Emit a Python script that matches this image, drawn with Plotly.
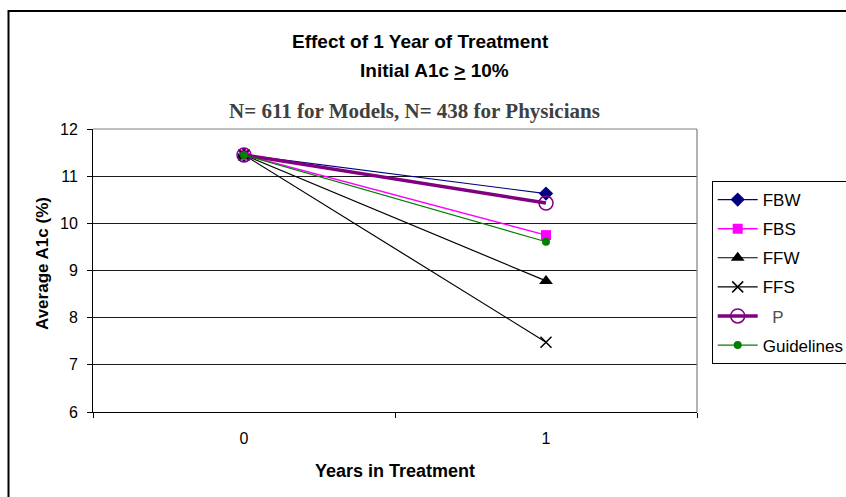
import plotly.graph_objects as go

# Treatment year categories and average A1c (%) for each strategy
years = ["0", "1"]
fbw = [11.45, 10.63]
fbs = [11.45, 9.75]
ffw = [11.45, 8.78]
ffs = [11.45, 7.48]
physicians = [11.45, 10.43]
guidelines = [11.45, 9.61]

y_ticks = [6, 7, 8, 9, 10, 11, 12]

W, H = 846, 497
ML, MR, MT, MB = 93, 149, 129, 85
PW, PH = W - ML - MR, H - MT - MB


def px_x(p):
    return (p - ML) / PW


def px_y(p):
    return (H - MB - p) / PH


series = [
    dict(name="FBW", y=fbw, color="#000080", width=1.2,
         marker=dict(symbol="diamond", size=11, color="#000080")),
    dict(name="FBS", y=fbs, color="#FF00FF", width=1.5,
         marker=dict(symbol="square", size=10, color="#FF00FF")),
    dict(name="FFW", y=ffw, color="#000000", width=1.2,
         marker=dict(symbol="triangle-up", size=12, color="#000000")),
    dict(name="FFS", y=ffs, color="#000000", width=1.2,
         marker=dict(symbol="x-thin-open", size=11, color="#000000",
                     line=dict(color="#000000", width=1.5))),
    dict(name="\u00a0\u00a0<span style='color:#505050'>P</span>", y=physicians,
         color="#800080", width=3.5,
         marker=dict(symbol="circle-open", size=14, color="#800080",
                     line=dict(color="#800080", width=1.5))),
    dict(name="Guidelines", y=guidelines, color="#008000", width=1.2,
         marker=dict(symbol="circle", size=8, color="#008000")),
]

fig = go.Figure()
for i, s in enumerate(series):
    fig.add_trace(go.Scatter(
        x=years, y=s["y"], name=s["name"], mode="lines+markers",
        line=dict(color=s["color"], width=s["width"]),
        marker=s["marker"], legendgroup=f"g{i}", hoverinfo="skip",
    ))

axis_font = dict(family="Liberation Sans, Arial", size=16, color="#000000")

fig.update_layout(
    width=W, height=H,
    margin=dict(l=ML, r=MR, t=MT, b=MB, pad=0, autoexpand=False),
    paper_bgcolor="#FFFFFF", plot_bgcolor="#FFFFFF",
    showlegend=True,
    legend=dict(
        x=px_x(711.7), y=px_y(181), xanchor="left", yanchor="top",
        bordercolor="#000000", borderwidth=1, bgcolor="#FFFFFF",
        font=dict(family="Liberation Sans, Arial", size=17, color="#000000"),
        traceorder="grouped", tracegroupgap=4, itemwidth=40,
        entrywidth=150, entrywidthmode="pixels",
    ),
    xaxis=dict(
        type="category", range=[-0.5, 1.5], tickson="boundaries",
        ticks="outside", ticklen=5, tickcolor="#000000", tickwidth=1,
        showline=True, linecolor="#000000", linewidth=1,
        showgrid=False, zeroline=False, tickfont=axis_font,
        ticklabelstandoff=12,
    ),
    yaxis=dict(
        range=[6, 12], tickvals=y_ticks, ticks="outside", ticklen=5,
        tickcolor="#000000", tickwidth=1,
        showline=True, linecolor="#000000", linewidth=1,
        showgrid=True, gridcolor="#1a1a1a", gridwidth=1,
        zeroline=False, tickfont=axis_font, ticklabelstandoff=6,
    ),
    shapes=[
        # outer chart frame
        dict(type="rect", xref="paper", yref="paper",
             x0=px_x(8.5), x1=px_x(880), y0=px_y(530), y1=px_y(11),
             line=dict(color="#000000", width=2), layer="below"),
        # plot area border (top and right)
        dict(type="line", xref="paper", yref="paper", x0=0, x1=1, y0=1, y1=1,
             line=dict(color="#808080", width=1.2)),
        dict(type="line", xref="paper", yref="paper", x0=1, x1=1, y0=0, y1=1,
             line=dict(color="#808080", width=1.2)),
    ],
    annotations=[
        dict(text="<b>Effect of 1 Year of Treatment</b>", xref="paper", yref="paper",
             x=px_x(420), y=px_y(41.7), xanchor="center", yanchor="middle",
             showarrow=False,
             font=dict(family="Liberation Sans, Arial", size=19, color="#000000")),
        dict(text="<b>Initial A1c <u>&gt;</u> 10%</b>", xref="paper", yref="paper",
             x=px_x(434), y=px_y(70), xanchor="center", yanchor="middle",
             showarrow=False,
             font=dict(family="Liberation Sans, Arial", size=19, color="#000000")),
        dict(text="<b>N= 611 for Models, N= 438 for Physicians</b>",
             xref="paper", yref="paper",
             x=px_x(414), y=px_y(110.7), xanchor="center", yanchor="middle",
             showarrow=False,
             font=dict(family="Liberation Serif, Times New Roman", size=21,
                       color="#404040")),
        dict(text="<b>Average A1c (%)</b>", xref="paper", yref="paper",
             x=px_x(42), y=px_y(264), xanchor="center", yanchor="middle",
             textangle=-90, showarrow=False,
             font=dict(family="Liberation Sans, Arial", size=17, color="#000000")),
        dict(text="<b>Years in Treatment</b>", xref="paper", yref="paper",
             x=px_x(395), y=px_y(471), xanchor="center", yanchor="middle",
             showarrow=False,
             font=dict(family="Liberation Sans, Arial", size=18, color="#000000")),
    ],
)

fig.write_html("out.html", config={"displayModeBar": False})
